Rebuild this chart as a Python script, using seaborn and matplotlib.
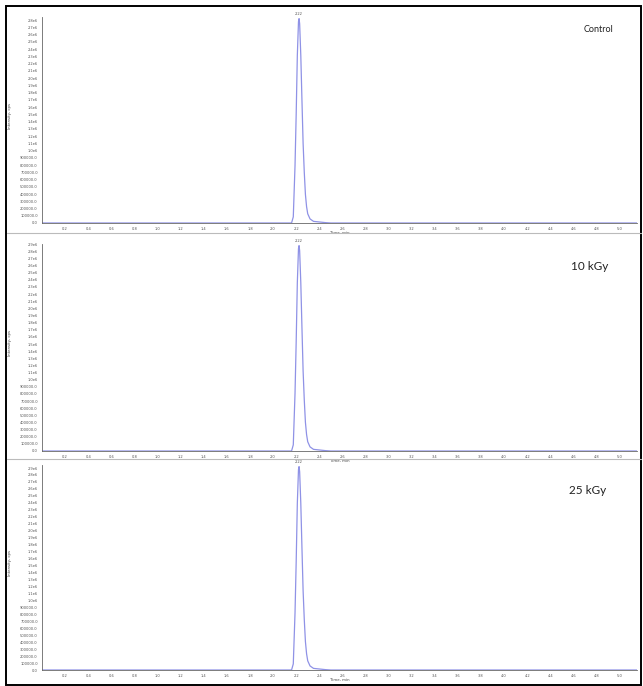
import numpy as np
import pandas as pd
import matplotlib
matplotlib.use('Agg')
import matplotlib.pyplot as plt
from matplotlib.ticker import FuncFormatter, MultipleLocator
import seaborn as sns

## Data (time in min, intensity in cps)
time_min = [0.0, 2.10, 2.16, 2.175, 2.19, 2.20, 2.21, 2.22, 2.225, 2.23, 2.24,
            2.25, 2.26, 2.27, 2.28, 2.29, 2.30, 2.32, 2.35, 2.45, 2.50, 5.15]
shape    = [0.0, 0.0, 0.0, 0.03, 0.28, 0.53, 0.82, 0.985, 1.0, 0.975, 0.82,
            0.60, 0.39, 0.25, 0.14, 0.08, 0.045, 0.02, 0.008, 0.002, 0.0, 0.0]
panels      = ['Control', '10 kGy', '25 kGy']
peak_height = [2.82e6, 2.88e6, 2.92e6]
peak_label  = ['2.22', '2.22', '2.22']

## Layout in pixels (top, bottom) for each axes
W, H = 643, 686
ax_left, ax_right = 42, 637
ax_rows = [(17, 223), (244, 451), (465, 670)]
label_pos = [(598, 30), (590, 267), (588, 491)]
label_size = [6.5, 8.5, 8.5]

fig = plt.figure(figsize=(W/100, H/100), dpi=100)
sns.set_style('white')

def yfmt(v, pos):
    if v >= 1e6 - 1:
        return '%.1fe6' % (v/1e6)
    return '%.1f' % v

for i in range(3):
    top, bot = ax_rows[i]
    ax = fig.add_axes([ax_left/W, 1-bot/H, (ax_right-ax_left)/W, (bot-top)/H])
    df = pd.DataFrame({'t': time_min, 'I': np.array(shape)*peak_height[i]})
    sns.lineplot(data=df, x='t', y='I', ax=ax, color='#8f92e6', lw=0.9)
    ax.set_xlim(0, 5.15)
    ax.set_ylim(0, peak_height[i]*1.008)
    ax.xaxis.set_major_locator(MultipleLocator(0.2))
    ax.yaxis.set_major_locator(MultipleLocator(1e5))
    ax.xaxis.set_major_formatter(FuncFormatter(lambda v, p: '' if v < 0.1 else '%.1f' % v))
    ax.yaxis.set_major_formatter(FuncFormatter(yfmt))
    ax.tick_params(labelsize=2.6, length=1.5, width=0.4,
                   pad=1.5, colors='#777777', direction='out')
    ax.tick_params(labelcolor='#555555')
    for s in ['top', 'right']:
        ax.spines[s].set_visible(False)
    for s in ['left', 'bottom']:
        ax.spines[s].set_color('#666666')
        ax.spines[s].set_linewidth(0.6)
    ax.set_xlabel('Time, min', fontsize=2.8, color='#444444', labelpad=0)
    ax.set_ylabel('Intensity, cps', fontsize=2.8, color='#444444', labelpad=2)
    ax.yaxis.set_label_coords(-0.05, 0.52)
    ax.text(2.225, peak_height[i]*1.012, peak_label[i], fontsize=2.6,
            color='#555555', ha='center', va='bottom')
    ax.patch.set_alpha(0)
    lx, ly = label_pos[i]
    fig.text(lx/W, 1-ly/H, panels[i], fontsize=label_size[i], family='Lato',
             ha='center', va='center', color='#222222')

## panel separators and outer frame
for yy in [233, 459]:
    fig.add_artist(plt.Line2D([7/W, 641/W], [1-yy/H, 1-yy/H], color='#bbbbbb', lw=0.8))
fig.add_artist(plt.Rectangle((6/W, 1/H), 635/W, 1-7/H, fill=False,
                             edgecolor='black', lw=1.4, transform=fig.transFigure))

fig.savefig('out.png', dpi=100)
